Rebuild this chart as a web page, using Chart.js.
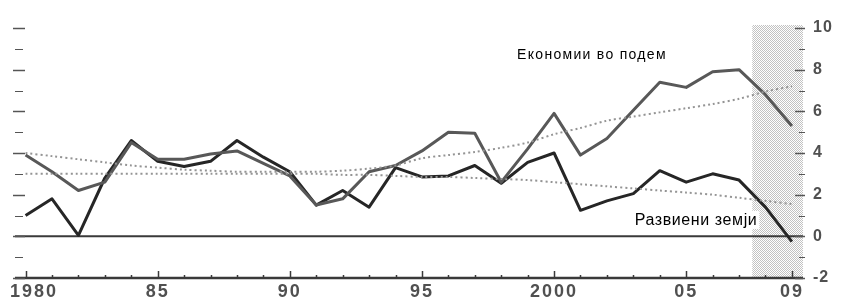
<!DOCTYPE html>
<html lang="mk">
<head>
<meta charset="utf-8">
<title>Економии во подем / Развиени земји</title>
<script src="https://cdn.jsdelivr.net/npm/chart.js@4/dist/chart.umd.min.js"></script>
<style>
	html, body { margin: 0; padding: 0; background: #fff; }
	canvas { display: block; }
</style>
</head>
<body>
<canvas id="growth-chart" width="842" height="303"></canvas>
<script>
// Years on the horizontal axis
const years = [1980, 1981, 1982, 1983, 1984, 1985, 1986, 1987, 1988, 1989, 1990, 1991, 1992, 1993, 1994, 1995, 1996, 1997, 1998, 1999, 2000, 2001, 2002, 2003, 2004, 2005, 2006, 2007, 2008, 2009];

// Real GDP growth, percent
const emerging = [3.9, 3.1, 2.2, 2.6, 4.5, 3.7, 3.7, 3.95, 4.1, 3.5, 2.9, 1.5, 1.8, 3.1, 3.4, 4.1, 5.0, 4.95, 2.6, 4.2, 5.9, 3.9, 4.7, 6.05, 7.4, 7.15, 7.9, 8.0, 6.8, 5.3];
const developed = [1.0, 1.8, 0.05, 2.8, 4.6, 3.6, 3.35, 3.6, 4.6, 3.8, 3.1, 1.5, 2.2, 1.4, 3.3, 2.85, 2.9, 3.4, 2.55, 3.55, 4.0, 1.25, 1.7, 2.05, 3.15, 2.6, 3.0, 2.7, 1.4, -0.25];

// Trends (dotted)
const emergingTrend = [4.0, 3.85, 3.7, 3.55, 3.4, 3.3, 3.2, 3.15, 3.1, 3.1, 3.1, 3.1, 3.15, 3.25, 3.4, 3.75, 3.9, 4.05, 4.25, 4.5, 4.9, 5.2, 5.55, 5.75, 5.95, 6.15, 6.35, 6.6, 6.95, 7.2];
const developedTrend = [3.0, 3.0, 3.0, 3.0, 3.0, 3.0, 3.0, 3.0, 3.0, 3.0, 3.0, 3.0, 2.95, 2.95, 2.9, 2.85, 2.85, 2.8, 2.75, 2.7, 2.6, 2.5, 2.4, 2.3, 2.2, 2.1, 2.0, 1.85, 1.7, 1.55];

// Tick labels
const xTickYears = [1980, 1985, 1990, 1995, 2000, 2005, 2009];
const xTickLabels = ["1980", "85", "90", "95", "2000", "05", "09"];
const yTickValues = [-2, 0, 2, 4, 6, 8, 10];

// Shaded forecast period starts here
const shadeFrom = 2007.5;

const seriesLabels = ["Економии во подем", "Развиени земји"];

const toPoints = (values) => values.map((v, i) => ({ x: years[i], y: v }));

/**
 * Small checker pattern used for the shaded period.
 */
function makeHatch(ctx) {
	const tile = document.createElement("canvas");
	tile.width = 2;
	tile.height = 2;
	const t = tile.getContext("2d");
	t.fillStyle = "#ffffff";
	t.fillRect(0, 0, 2, 2);
	t.fillStyle = "#c2c2c2";
	t.fillRect(0, 0, 1, 1);
	t.fillRect(1, 1, 1, 1);
	return ctx.createPattern(tile, "repeat");
}

/**
 * Draws the shading, zero line and axes by hand.
 */
const decorations = {
	id: "decorations",
	beforeDatasetsDraw(chart) {
		const { ctx, chartArea: area, scales: { x, y } } = chart;
		ctx.save();
		// shaded period
		const sx = x.getPixelForValue(shadeFrom);
		ctx.fillStyle = makeHatch(ctx);
		ctx.fillRect(sx, area.top - 3, area.right - sx, area.bottom - area.top + 3);
		// zero line
		ctx.strokeStyle = "#3a3a3a";
		ctx.lineWidth = 2;
		ctx.beginPath();
		ctx.moveTo(area.left, y.getPixelForValue(0));
		ctx.lineTo(area.right, y.getPixelForValue(0));
		ctx.stroke();
		ctx.restore();
	},
	afterDatasetsDraw(chart) {
		const { ctx, chartArea: area, scales: { x, y } } = chart;
		ctx.save();

		// bottom axis with year ticks pointing up
		ctx.strokeStyle = "#3a3a3a";
		ctx.lineWidth = 2.5;
		ctx.beginPath();
		ctx.moveTo(area.left, area.bottom);
		ctx.lineTo(area.right, area.bottom);
		ctx.stroke();
		ctx.lineWidth = 1.5;
		years.forEach((yr) => {
			const px = Math.round(x.getPixelForValue(yr)) + 0.5;
			const len = xTickYears.includes(yr) ? 7 : 3;
			ctx.beginPath();
			ctx.moveTo(px, area.bottom);
			ctx.lineTo(px, area.bottom - len);
			ctx.stroke();
		});

		// left and right unit ticks
		ctx.strokeStyle = "#555";
		for (let v = -2; v <= 10; v++) {
			const py = Math.round(y.getPixelForValue(v)) + 0.5;
			const major = v % 2 === 0;
			ctx.lineWidth = major ? 1.5 : 1;
			ctx.beginPath();
			ctx.moveTo(area.left - 2 + (major ? 0 : 2), py);
			ctx.lineTo(area.left + (major ? 10 : 8), py);
			ctx.stroke();
			ctx.beginPath();
			ctx.moveTo(area.right - (major ? 8 : 4), py);
			ctx.lineTo(area.right + 2, py);
			ctx.stroke();
		}

		// x labels
		ctx.fillStyle = "#505050";
		ctx.font = "bold 18px 'Liberation Sans', Arial, sans-serif";
		ctx.letterSpacing = "2px";
		ctx.textBaseline = "middle";
		ctx.textAlign = "center";
		xTickYears.forEach((yr, i) => {
			const w = ctx.measureText(xTickLabels[i]).width;
			const px = Math.max(x.getPixelForValue(yr), 10 + w / 2);
			ctx.fillText(xTickLabels[i], px, area.bottom + 14);
		});

		// right labels
		ctx.font = "bold 16px 'Liberation Sans', Arial, sans-serif";
		ctx.letterSpacing = "1px";
		ctx.textAlign = "left";
		yTickValues.forEach((v) => {
			ctx.fillText(String(v), area.right + 10, y.getPixelForValue(v));
		});

		// series labels
		ctx.fillStyle = "#000";
		ctx.font = "14px 'Liberation Sans', Arial, sans-serif";
		ctx.letterSpacing = "1.3px";
		ctx.textBaseline = "alphabetic";
		ctx.fillText(seriesLabels[0], x.getPixelForValue(1998.6), y.getPixelForValue(8.5));

		ctx.font = "16px 'Liberation Sans', Arial, sans-serif";
		ctx.letterSpacing = "0.6px";
		const lx = x.getPixelForValue(2003.05);
		const ly = y.getPixelForValue(0.55);
		const lw = ctx.measureText(seriesLabels[1]).width;
		ctx.fillStyle = "#fff";
		ctx.fillRect(lx - 2, ly - 14, lw + 4, 18);
		ctx.fillStyle = "#000";
		ctx.fillText(seriesLabels[1], lx, ly);

		ctx.restore();
	}
};

const trendStyle = {
	borderColor: "#949494",
	borderWidth: 2,
	borderDash: [2, 3],
	pointRadius: 0,
	tension: 0.3,
	fill: false
};

new Chart(document.getElementById("growth-chart"), {
	type: "line",
	data: {
		datasets: [
			{ ...trendStyle, data: toPoints(emergingTrend) },
			{ ...trendStyle, data: toPoints(developedTrend) },
			{ data: toPoints(emerging), borderColor: "#585858", borderWidth: 3, pointRadius: 0, tension: 0, borderJoinStyle: "round" },
			{ data: toPoints(developed), borderColor: "#262626", borderWidth: 3, pointRadius: 0, tension: 0, borderJoinStyle: "round" }
		]
	},
	options: {
		responsive: false,
		animation: false,
		devicePixelRatio: 1,
		layout: { padding: { left: 15, right: 39, top: 28, bottom: 25 } },
		plugins: { legend: { display: false }, tooltip: { enabled: false } },
		scales: {
			x: { type: "linear", min: 1979.6, max: 2009.42, display: false },
			y: { min: -2, max: 10, display: false }
		}
	},
	plugins: [decorations]
});
</script>
</body>
</html>
